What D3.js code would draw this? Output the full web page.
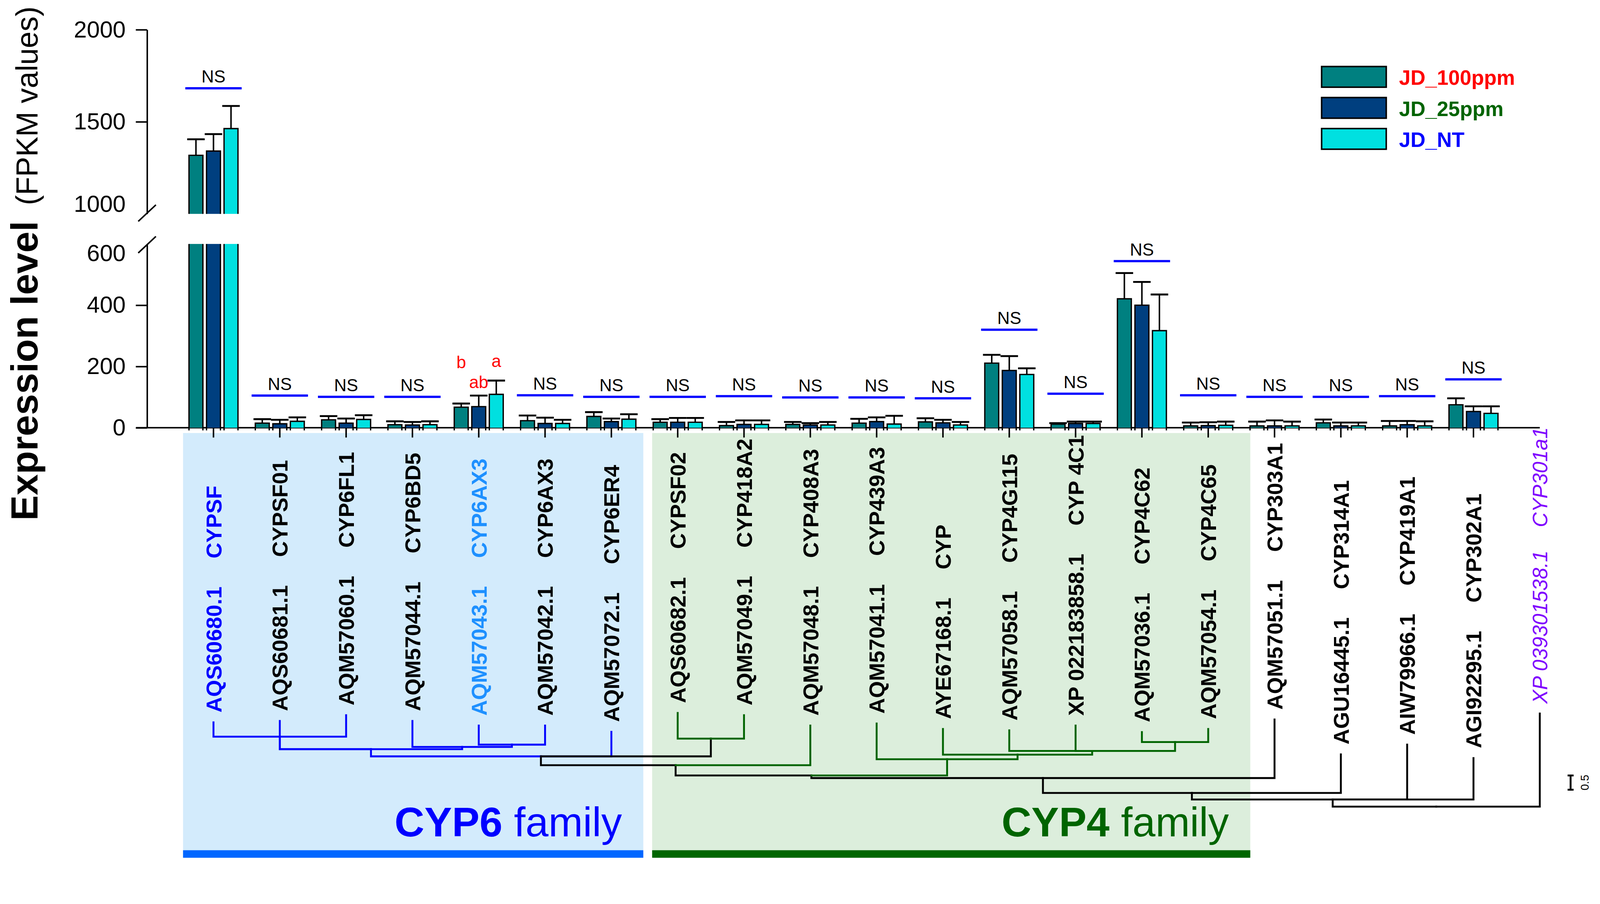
<!DOCTYPE html>
<html>
<head>
<meta charset="utf-8">
<script src="https://cdn.jsdelivr.net/npm/d3@7"></script>
<style>
  html, body { margin: 0; padding: 0; width: 100%; height: 100%; overflow: hidden; background: #fff; }
  #chart { width: 100%; height: 100%; }
  svg { display: block; }
  text { font-family: "Liberation Sans", Arial, sans-serif; }
</style>
</head>
<body>
<div id="chart"></div>
<script>
// leaf labels, the last one is the outgroup (no bars)
var accessions = ["AQS60680.1", "AQS60681.1", "AQM57060.1", "AQM57044.1", "AQM57043.1", "AQM57042.1", "AQM57072.1",
    "AQS60682.1", "AQM57049.1", "AQM57048.1", "AQM57041.1", "AYE67168.1", "AQM57058.1", "XP 022183858.1", "AQM57036.1", "AQM57054.1",
    "AQM57051.1", "AGU16445.1", "AIW79966.1", "AGI92295.1", "XP 039301538.1"];
var geneNames = ["CYPSF", "CYPSF01", "CYP6FL1", "CYP6BD5", "CYP6AX3", "CYP6AX3", "CYP6ER4",
    "CYPSF02", "CYP418A2", "CYP408A3", "CYP439A3", "CYP", "CYP4G115", "CYP 4C1", "CYP4C62", "CYP4C65",
    "CYP303A1", "CYP314A1", "CYP419A1", "CYP302A1", "CYP301a1"];

var series = ["JD_100ppm", "JD_25ppm", "JD_NT"];
var jd100 = [1318, 15, 26, 10, 67, 23, 37, 18, 7, 11, 15, 19, 211, 12, 421, 6, 6, 16, 6, 75];
var jd25  = [1341, 13, 15, 9, 69, 14, 20, 18, 11, 9, 20, 16, 187, 14, 400, 7, 6, 6, 10, 53];
var jdNT  = [1463, 21, 27, 10, 109, 14, 28, 18, 11, 9, 12, 9, 174, 14, 317, 8, 6, 6, 6, 47];
var err100 = [87, 13, 12, 11, 12, 17, 14, 10, 12, 8, 14, 12, 27, 3, 84, 11, 14, 11, 16, 21];
var err25  = [92, 13, 15, 10, 36, 19, 10, 14, 13, 6, 14, 10, 47, 6, 76, 11, 18, 11, 12, 17];
var errNT  = [123, 13, 14, 11, 45, 12, 16, 14, 13, 10, 27, 10, 20, 6, 118, 12, 14, 11, 15, 23];

// level of the "NS" line above each group (null: letters are used)
var nsLevel = [1682, 105, 101, 101, null, 106, 101, 101, 103, 99, 99, 96, 320, 111, 544, 106, 101, 101, 103, 158];
var sigGroup = 4;
var sigLetters = ["b", "ab", "a"];
var sigLevel = [195, 129, 198];

var yTicksUpper = [1000, 1500, 2000];
var yTicksLower = [0, 200, 400, 600];

// tip depth of each leaf, in branch length units from the root
var leafDepth = [2.95, 3.0, 3.2, 3.0, 2.84, 2.84, 2.62, 3.28, 3.2, 2.84, 2.91, 2.72, 2.67, 2.84, 2.61, 2.72,
    3.05, 1.83, 2.17, 1.70, 3.26];

function L(i, c) { return { leaf: i, h: leafDepth[i], c: c }; }
var tree = { h: 0, c: "k", children: [
    { h: 0.25, c: "k", children: [
        { h: 0.48, c: "k", children: [
            { h: 1.0, c: "k", children: [
                { h: 1.09, c: "k", children: [
                    { h: 1.45, c: "k", children: [
                        { h: 1.76, c: "k", children: [
                            { h: 2.01, c: "b", children: [
                                { h: 2.45, c: "b", children: [L(0, "b"), L(2, "b")] },
                                L(1, "b"),
                                { h: 2.09, c: "b", children: [L(3, "b"),
                                    { h: 2.17, c: "b", children: [L(4, "b"), L(5, "b")] }] }
                            ] },
                            L(6, "b"),
                            { h: 2.38, c: "k", children: [L(7, "g"), L(8, "g")] }
                        ] },
                        L(9, "g")
                    ] },
                    { h: 1.66, c: "g", children: [L(10, "g"),
                        { h: 1.82, c: "g", children: [L(11, "g"),
                            { h: 1.95, c: "g", children: [L(12, "g"), L(13, "g"),
                                { h: 2.26, c: "g", children: [L(14, "g"), L(15, "g")] }] }] }] }
                ] },
                L(16, "k")
            ] },
            L(17, "k")
        ] },
        L(18, "k"), L(19, "k")
    ] },
    L(20, "k")
] };

var barColors = ["#008080", "#003F7F", "#00E0E0"];
var legendColors = ["#FF0000", "#006400", "#0000FF"];
var treeColors = { b: "#0000FF", g: "#006400", k: "#000000" };

var width = 4259, height = 2313;
var svg = d3.select("#chart").append("svg")
    .attr("viewBox", "0 0 " + width + " " + height)
    .attr("preserveAspectRatio", "xMinYMin meet")
    .attr("width", "100%")
    .attr("height", "100%");

var ids = d3.range(accessions.length);
var x0 = d3.scaleBand().domain(ids).range([480, 4187]).paddingInner(0.207).paddingOuter(0.1035);
var x1 = d3.scaleBand().domain(series).range([0, x0.bandwidth()]).paddingInner(0.12).paddingOuter(0.06);
var cx = function (i) { return x0(i) + x0.bandwidth() / 2; };

var yUp = d3.scaleLinear().domain([1000, 2000]).range([569, 79]);
var yLo = d3.scaleLinear().domain([0, 600]).range([1138, 649]);
var yv = function (v) { return v > 600 ? yUp(v) : yLo(v); };
var yTree = d3.scaleLinear().domain([0, 1]).range([2146, 2070]);

// family shading
var families = [
    { first: 0, last: 6, left: -11, right: 15, fill: "#D3EBFC", line: "#0066FF", color: "#0000FF", name: "CYP6" },
    { first: 7, last: 15, left: 2, right: 42, fill: "#DCEEDC", line: "#006600", color: "#006400", name: "CYP4" }
];
families.forEach(function (f) {
    var xa = x0(f.first) + f.left,
        xb = x0(f.last) + x0.bandwidth() + f.right;
    svg.append("rect")
        .attr("x", xa).attr("y", 1152)
        .attr("width", xb - xa).attr("height", 1130)
        .style("fill", f.fill);
    svg.append("rect")
        .attr("x", xa).attr("y", 2262)
        .attr("width", xb - xa).attr("height", 20)
        .style("fill", f.line);
    var t = svg.append("text")
        .attr("x", xb - 57).attr("y", 2225)
        .attr("text-anchor", "end")
        .style("font-size", "110px")
        .style("fill", f.color);
    t.append("tspan").style("font-weight", "bold").text(f.name);
    t.append("tspan").text(" family");
});

// y axes (broken)
function styleAxis(g) {
    g.select(".domain").style("stroke-width", "4px");
    g.selectAll(".tick line").style("stroke-width", "4px");
    g.selectAll(".tick text").style("font-size", "62px").style("font-family", "Liberation Sans, Arial, sans-serif");
}
var gUp = svg.append("g").attr("transform", "translate(391.5,0)")
    .call(d3.axisLeft(yUp).tickValues(yTicksUpper).tickFormat(d3.format("d"))
        .tickSize(30).tickPadding(27).tickSizeOuter(0));
styleAxis(gUp);
var gLo = svg.append("g").attr("transform", "translate(391.5,0)")
    .call(d3.axisLeft(yLo).tickValues(yTicksLower).tickFormat(d3.format("d"))
        .tickSize(30).tickPadding(27).tickSizeOuter(0));
styleAxis(gLo);
gUp.selectAll(".tick").filter(function (d) { return d === 1000; })
    .call(function (t) { t.select("line").remove(); t.select("text").attr("dy", "-0.1em"); });
gLo.selectAll(".tick").filter(function (d) { return d === 600; })
    .call(function (t) { t.select("line").remove(); t.select("text").attr("dy", "0.72em"); });

// break marks
[yUp(1000) - 2, yLo(600) + 2].forEach(function (yb) {
    svg.append("line")
        .attr("x1", 368).attr("x2", 415)
        .attr("y1", yb + 22).attr("y2", yb - 22)
        .style("stroke", "#000").style("stroke-width", "4px");
});

// x axis line + group ticks
svg.append("line")
    .attr("x1", 362).attr("x2", cx(20))
    .attr("y1", yLo(0)).attr("y2", yLo(0))
    .style("stroke", "#000").style("stroke-width", "4px");
d3.range(jd100.length).forEach(function (i) {
    svg.append("line")
        .attr("x1", cx(i)).attr("x2", cx(i))
        .attr("y1", yLo(0)).attr("y2", yLo(0) + 26)
        .style("stroke", "#000").style("stroke-width", "4px");
});

// Y axis title
var yt = svg.append("text")
    .attr("transform", "translate(100,1385) rotate(-90)")
    .style("fill", "#000");
yt.append("tspan").style("font-weight", "bold").style("font-size", "101px").text("Expression level");
yt.append("tspan").attr("dx", 42).style("font-size", "80px").text("(FPKM values)");

// bars
var means = [jd100, jd25, jdNT], errs = [err100, err25, errNT];

function barPiece(xl, w, yTop, yBot, color, withTop, ext) {
    svg.append("rect")
        .attr("x", xl).attr("y", yTop)
        .attr("width", w).attr("height", yBot - yTop)
        .style("fill", color);
    var p = withTop
        ? "M" + xl + "," + (yBot + ext) + "V" + yTop + "H" + (xl + w) + "V" + (yBot + ext)
        : "M" + xl + "," + (yBot + ext) + "V" + yTop + "M" + (xl + w) + "," + yTop + "V" + (yBot + ext);
    svg.append("path").attr("d", p)
        .style("fill", "none").style("stroke", "#000").style("stroke-width", "3.5px");
}

d3.range(jd100.length).forEach(function (i) {
    series.forEach(function (s, k) {
        var v = means[k][i], e = errs[k][i];
        var xl = x0(i) + x1(s) + 2, w = x1.bandwidth() - 4, xc = x0(i) + x1(s) + x1.bandwidth() / 2;
        if (v > 600) {
            barPiece(xl, w, yLo(600), yLo(0), barColors[k], false, 7);
            barPiece(xl, w, yUp(v), yUp(1000), barColors[k], true, 0);
        } else {
            barPiece(xl, w, yLo(v), yLo(0), barColors[k], true, 7);
        }
        svg.append("line")
            .attr("x1", xc).attr("x2", xc)
            .attr("y1", yv(v)).attr("y2", yv(v + e))
            .style("stroke", "#000").style("stroke-width", "4px");
        svg.append("line")
            .attr("x1", xc - x1.step() / 2).attr("x2", xc + x1.step() / 2)
            .attr("y1", yv(v + e)).attr("y2", yv(v + e))
            .style("stroke", "#000").style("stroke-width", "5px");
    });
    if (nsLevel[i] !== null) {
        var yn = yv(nsLevel[i]);
        svg.append("line")
            .attr("x1", cx(i) - 75).attr("x2", cx(i) + 75)
            .attr("y1", yn).attr("y2", yn)
            .style("stroke", "#0000FF").style("stroke-width", "6px");
        svg.append("text")
            .attr("x", cx(i)).attr("y", yn - 15)
            .attr("text-anchor", "middle")
            .style("font-size", "46px")
            .text("NS");
    }
});

// significance letters
sigLetters.forEach(function (l, k) {
    svg.append("text")
        .attr("x", x0(sigGroup) + x1(series[k]) + x1.bandwidth() / 2)
        .attr("y", yLo(sigLevel[k]))
        .attr("text-anchor", "middle")
        .style("font-size", "46px")
        .style("fill", "#FF0000")
        .text(l);
});

// legend
series.forEach(function (s, k) {
    var ly = 177 + k * 82.5;
    svg.append("rect")
        .attr("x", 3518).attr("y", ly)
        .attr("width", 172).attr("height", 55)
        .style("fill", barColors[k])
        .style("stroke", "#000").style("stroke-width", "4px");
    svg.append("text")
        .attr("x", 3724).attr("y", ly + 49)
        .style("font-size", "55px").style("font-weight", "bold")
        .style("fill", legendColors[k])
        .text(s);
});

// tree
var root = d3.hierarchy(tree);
root.eachAfter(function (d) {
    if (d.data.leaf !== undefined) d.x = cx(d.data.leaf);
    else {
        var xs = d.children.map(function (c) { return c.x; });
        d.x = (d3.min(xs) + d3.max(xs)) / 2;
    }
});
root.descendants().filter(function (d) { return d.parent; }).forEach(function (d) {
    svg.append("path")
        .attr("d", "M" + d.x + "," + yTree(d.data.h) + "V" + yTree(d.parent.data.h) + "H" + d.parent.x)
        .style("fill", "none")
        .style("stroke", treeColors[d.data.c])
        .style("stroke-width", "5px")
        .style("stroke-linecap", "square");
});

// leaf labels
var labelColors = { 0: "#0000FF", 4: "#1E90FF", 20: "#7F00FF" };
ids.forEach(function (i) {
    var isOut = (i === 20);
    var t = svg.append("text")
        .attr("transform", "translate(" + cx(i) + "," + (yTree(leafDepth[i]) - 26) + ") rotate(-90)")
        .attr("dy", "0.36em")
        .style("font-size", isOut ? "55px" : "58px")
        .style("font-weight", isOut ? "normal" : "bold")
        .style("font-style", isOut ? "italic" : "normal")
        .style("fill", labelColors[i] || "#000");
    t.append("tspan").text(accessions[i]);
    t.append("tspan").attr("dx", isOut ? 62 : 75).text(geneNames[i]);
});

// scale bar
var sbX = cx(20) + 82, sbBottom = 2101, sbLen = yTree(0) - yTree(0.5);
svg.append("path")
    .attr("d", "M" + sbX + "," + sbBottom + "V" + (sbBottom - sbLen) +
        "M" + (sbX - 8) + "," + sbBottom + "H" + (sbX + 8) +
        "M" + (sbX - 8) + "," + (sbBottom - sbLen) + "H" + (sbX + 8))
    .style("stroke", "#000").style("stroke-width", "5px").style("fill", "none");
svg.append("text")
    .attr("transform", "translate(" + (sbX + 48) + "," + (sbBottom - sbLen / 2) + ") rotate(-90)")
    .attr("text-anchor", "middle")
    .style("font-size", "30px")
    .text("0.5");
</script>
</body>
</html>
